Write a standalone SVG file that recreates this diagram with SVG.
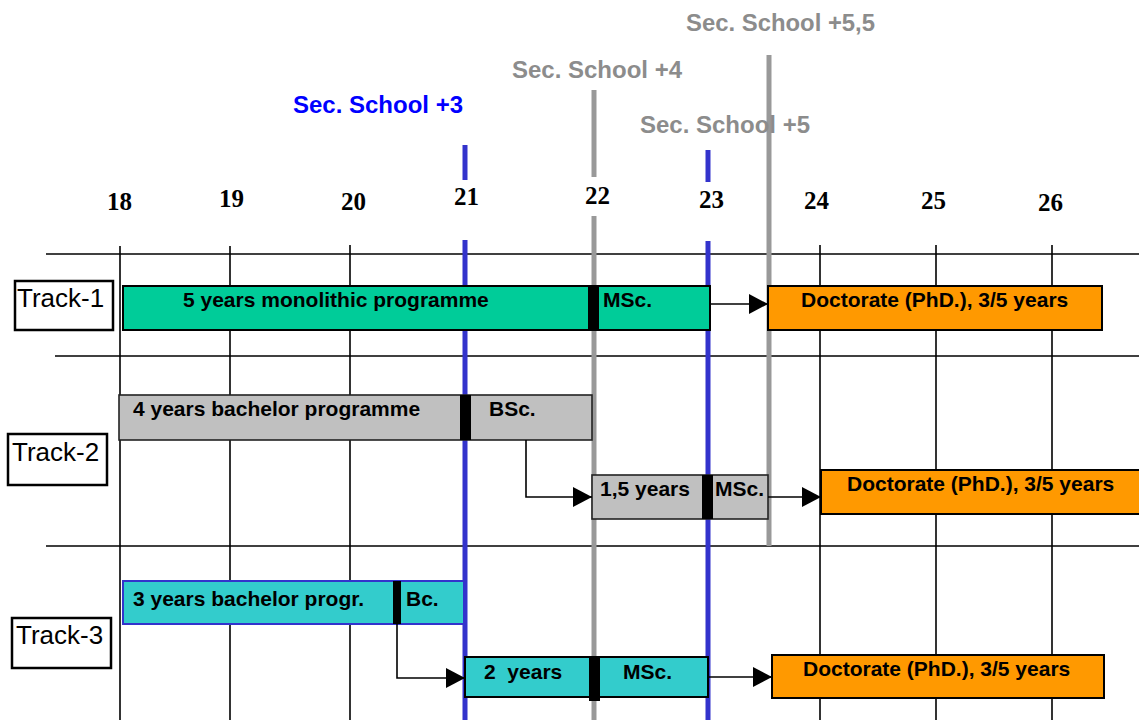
<svg xmlns="http://www.w3.org/2000/svg" width="1139" height="720" viewBox="0 0 1139 720">
  <style>
    .grid { stroke: #000; stroke-width: 1.6; fill: none; }
    .blue { stroke: #3333CC; stroke-width: 5; fill: none; }
    .gray { stroke: #999999; stroke-width: 5; fill: none; }
    .year { font-family: "Liberation Serif", "Times New Roman", serif; font-weight: bold; font-size: 25px; fill: #000; }
    .milestone { font-family: "Liberation Sans", Arial, sans-serif; font-weight: bold; font-size: 23px; }
    .track { fill: #fff; stroke: #000; stroke-width: 2.5; }
    .trackLabel { font-family: "Liberation Sans", Arial, sans-serif; font-size: 26px; fill: #000; }
    .lbl { font-family: "Liberation Sans", Arial, sans-serif; font-weight: bold; font-size: 21px; fill: #000; }
    .green { fill: #00CC99; stroke: #000; stroke-width: 2; }
    .orange { fill: #FF9900; stroke: #000; stroke-width: 2; }
    .silver { fill: #C0C0C0; stroke: #222; stroke-width: 1.6; }
    .cyan { fill: #33CCCC; stroke: #000; stroke-width: 2; }
    .cyanBlue { fill: #33CCCC; stroke: #3333CC; stroke-width: 2; }
    .sep { fill: #000; }
    .conn { stroke: #000; stroke-width: 1.6; fill: none; marker-end: url(#arrow); }
  </style>
  <defs>
    <marker id="arrow" markerUnits="userSpaceOnUse" markerWidth="20" markerHeight="22" refX="19" refY="10" orient="auto">
      <path d="M0,0 L19,10 L0,20 Z" fill="#000"/>
    </marker>
  </defs>

  <rect width="1139" height="720" fill="#fff"/>

  <!-- age grid -->
  <g id="grid">
    <line class="grid" x1="46" y1="254" x2="1139" y2="254"/>
    <line class="grid" x1="55" y1="356" x2="1139" y2="356"/>
    <line class="grid" x1="46" y1="546" x2="1139" y2="546"/>
    <line class="grid" x1="120" y1="246" x2="120" y2="720"/>
    <line class="grid" x1="230" y1="246" x2="230" y2="720"/>
    <line class="grid" x1="350" y1="245" x2="350" y2="720"/>
    <line class="grid" x1="820" y1="245" x2="820" y2="720"/>
    <line class="grid" x1="936" y1="245" x2="936" y2="720"/>
    <line class="grid" x1="1052" y1="245" x2="1052" y2="720"/>
  </g>

  <!-- age labels -->
  <g id="years">
    <text class="year" x="107" y="210">18</text>
    <text class="year" x="219" y="207">19</text>
    <text class="year" x="341" y="210">20</text>
    <text class="year" x="454" y="205">21</text>
    <text class="year" x="585" y="204">22</text>
    <text class="year" x="699" y="208">23</text>
    <text class="year" x="804" y="209">24</text>
    <text class="year" x="921" y="209">25</text>
    <text class="year" x="1038" y="211">26</text>
  </g>

  <!-- secondary-school milestones -->
  <g id="milestones">
    <line class="blue" x1="465" y1="145" x2="465" y2="180"/>
    <line class="blue" x1="465" y1="240" x2="465" y2="720"/>
    <line class="blue" x1="708" y1="150" x2="708" y2="182"/>
    <line class="blue" x1="708" y1="241" x2="708" y2="720"/>
    <line class="gray" x1="594" y1="90" x2="594" y2="177"/>
    <line class="gray" x1="594" y1="216" x2="594" y2="720"/>
    <line class="gray" x1="769" y1="55" x2="769" y2="546"/>
    <text class="milestone" x="293" y="113" fill="#0000FF" textLength="170" lengthAdjust="spacingAndGlyphs">Sec. School +3</text>
    <text class="milestone" x="512" y="78" fill="#8C8C8C" textLength="170" lengthAdjust="spacingAndGlyphs">Sec. School +4</text>
    <text class="milestone" x="640" y="133" fill="#8C8C8C" textLength="170" lengthAdjust="spacingAndGlyphs">Sec. School +5</text>
    <text class="milestone" x="686" y="31" fill="#8C8C8C" textLength="189" lengthAdjust="spacingAndGlyphs">Sec. School +5,5</text>
  </g>

  <!-- track labels -->
  <g id="track-1">
    <rect class="track" x="15" y="281" width="98" height="49"/>
    <text class="trackLabel" x="17" y="307">Track-1</text>
  </g>
  <g id="track-2">
    <rect class="track" x="8" y="434" width="99" height="51"/>
    <text class="trackLabel" x="12" y="461">Track-2</text>
  </g>
  <g id="track-3">
    <rect class="track" x="12" y="618" width="99" height="50"/>
    <text class="trackLabel" x="16" y="644">Track-3</text>
  </g>

  <!-- track 1 -->
  <g id="t1-monolithic">
    <rect class="green" x="123" y="286" width="587" height="44"/>
    <rect class="sep" x="588" y="286" width="11" height="44"/>
    <text class="lbl" x="183" y="307">5 years monolithic programme</text>
    <text class="lbl" x="603" y="307">MSc.</text>
  </g>
  <g id="t1-phd">
    <rect class="orange" x="768" y="286" width="334" height="44"/>
    <text class="lbl" x="801" y="307">Doctorate (PhD.), 3/5 years</text>
  </g>

  <!-- track 2 -->
  <g id="t2-bachelor">
    <rect class="silver" x="119" y="395" width="473" height="45"/>
    <rect class="sep" x="460" y="395" width="11" height="45"/>
    <text class="lbl" x="133" y="416">4 years bachelor programme</text>
    <text class="lbl" x="489" y="416">BSc.</text>
  </g>
  <g id="t2-master">
    <rect class="silver" x="592" y="475" width="176" height="44" stroke="#000" stroke-width="2"/>
    <rect class="sep" x="702" y="475" width="11" height="44"/>
    <text class="lbl" x="600" y="496">1,5 years</text>
    <text class="lbl" x="715" y="496">MSc.</text>
  </g>
  <g id="t2-phd">
    <rect class="orange" x="821" y="470" width="330" height="44"/>
    <text class="lbl" x="847" y="491">Doctorate (PhD.), 3/5 years</text>
  </g>

  <!-- track 3 -->
  <g id="t3-bachelor">
    <rect class="cyanBlue" x="123" y="581" width="341" height="43"/>
    <rect class="sep" x="393" y="581" width="8" height="43"/>
    <text class="lbl" x="133" y="606">3 years bachelor progr.</text>
    <text class="lbl" x="406" y="606">Bc.</text>
  </g>
  <g id="t3-master">
    <rect class="cyan" x="465" y="657" width="243" height="40"/>
    <rect class="sep" x="589" y="657" width="11" height="44"/>
    <text class="lbl" x="484" y="679" xml:space="preserve">2  years</text>
    <text class="lbl" x="623" y="679">MSc.</text>
  </g>
  <g id="t3-phd">
    <rect class="orange" x="772" y="655" width="332" height="43"/>
    <text class="lbl" x="803" y="676">Doctorate (PhD.), 3/5 years</text>
  </g>

  <!-- connectors -->
  <g id="connectors">
    <path class="conn" d="M710,304 H768"/>
    <path class="conn" d="M526,440 V497 H592"/>
    <path class="conn" d="M768,497 H821"/>
    <path class="conn" d="M397,624 V678 H465"/>
    <path class="conn" d="M708,677 H772"/>
  </g>
</svg>
